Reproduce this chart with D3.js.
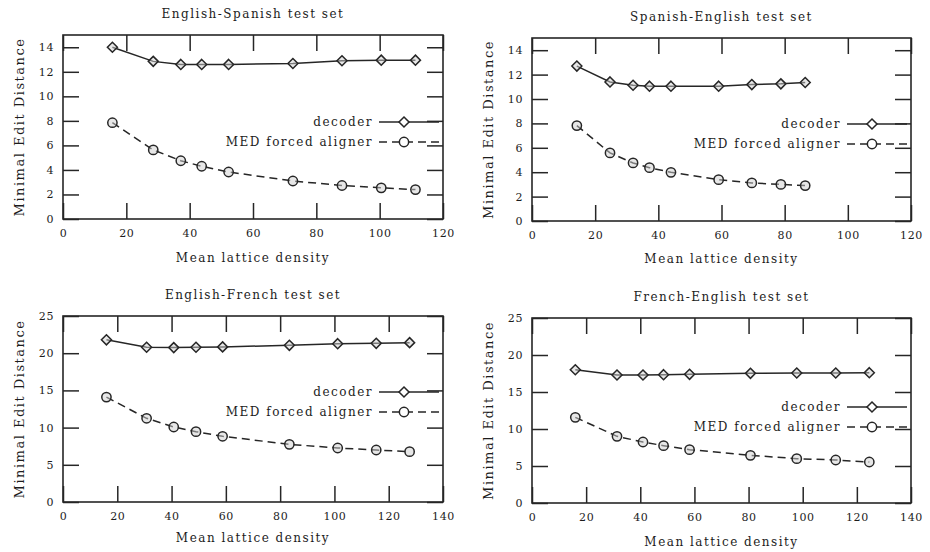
<!DOCTYPE html>
<html>
<head>
<meta charset="utf-8">
<script src="https://cdn.jsdelivr.net/npm/d3@7"></script>
<style>
  body { margin: 0; background: #fff; }
  text { font-family: "DejaVu Serif", "Liberation Serif", serif; fill: #1c1c1c; letter-spacing: 1.5px; }
</style>
</head>
<body>
<div id="chart"></div>
<script>
// data
const titles = ["English-Spanish test set", "Spanish-English test set", "English-French test set", "French-English test set"];
const seriesNames = ["decoder", "MED forced aligner"];

const enEsDensity = [15.6, 28.5, 37.2, 43.8, 52.3, 72.6, 88.1, 100.5, 111.3];
const enEsDecoder = [14.0, 12.85, 12.6, 12.6, 12.6, 12.68, 12.9, 12.95, 12.95];
const enEsAligner = [7.85, 5.63, 4.75, 4.3, 3.83, 3.1, 2.73, 2.54, 2.4];

const esEnDensity = [14.2, 24.7, 32.0, 37.2, 44.0, 59.1, 69.6, 78.8, 86.5];
const esEnDecoder = [12.7, 11.4, 11.13, 11.05, 11.05, 11.05, 11.18, 11.24, 11.35];
const esEnAligner = [7.82, 5.58, 4.76, 4.37, 3.99, 3.39, 3.12, 3.0, 2.9];

const enFrDensity = [16.0, 30.8, 40.8, 49.0, 58.8, 83.4, 101.2, 115.4, 127.7];
const enFrDecoder = [21.8, 20.8, 20.75, 20.8, 20.85, 21.06, 21.28, 21.33, 21.42];
const enFrAligner = [14.1, 11.25, 10.08, 9.45, 8.83, 7.75, 7.26, 6.99, 6.77];

const frEnDensity = [16.0, 31.4, 41.0, 48.6, 58.2, 80.7, 97.8, 112.2, 124.6];
const frEnDecoder = [18.0, 17.3, 17.3, 17.34, 17.39, 17.52, 17.57, 17.57, 17.61];
const frEnAligner = [11.58, 9.01, 8.24, 7.75, 7.21, 6.44, 5.99, 5.81, 5.54];

const xTicks120 = [0, 20, 40, 60, 80, 100, 120];
const xTicks140 = [0, 20, 40, 60, 80, 100, 120, 140];
const yTicks14 = [0, 2, 4, 6, 8, 10, 12, 14];
const yTicks25 = [0, 5, 10, 15, 20, 25];

const panelData = [
  { title: titles[0], x: enEsDensity, dec: enEsDecoder, med: enEsAligner, xMax: 120, yMax: 15, xTicks: xTicks120, yTicks: yTicks14 },
  { title: titles[1], x: esEnDensity, dec: esEnDecoder, med: esEnAligner, xMax: 120, yMax: 15, xTicks: xTicks120, yTicks: yTicks14 },
  { title: titles[2], x: enFrDensity, dec: enFrDecoder, med: enFrAligner, xMax: 140, yMax: 25, xTicks: xTicks140, yTicks: yTicks25 },
  { title: titles[3], x: frEnDensity, dec: frEnDecoder, med: frEnAligner, xMax: 140, yMax: 25, xTicks: xTicks140, yTicks: yTicks25 }
];

// layout of each panel in page pixels
const layout = [
  { left: 63, top: 35, right: 443, bottom: 219, xLab: 43, legY: 87 },
  { left: 532, top: 38, right: 911, bottom: 221, xLab: 42, legY: 86 },
  { left: 63, top: 316, right: 443, bottom: 502, xLab: 40, legY: 76 },
  { left: 532, top: 318, right: 911, bottom: 503, xLab: 43, legY: 89 }
];

const W = 930, H = 552;
const ink = "#262626";
const tickLen = 16;

const svg = d3.select("#chart").append("svg")
  .attr("width", W)
  .attr("height", H)
  .attr("viewBox", [0, 0, W, H]);

const diamond = d3.symbol().type(d3.symbolDiamond2).size(64);
const circle = d3.symbol().type(d3.symbolCircle).size(68);

function drawPanel(p, lay) {
  let g = svg.append("g");

  let x = d3.scaleLinear().domain([0, p.xMax]).range([lay.left, lay.right]);
  let y = d3.scaleLinear().domain([0, p.yMax]).range([lay.bottom, lay.top]);

  // ticks on all four sides, pointing inward
  let xAxisB = d3.axisBottom(x).tickValues(p.xTicks).tickSizeInner(-tickLen).tickSizeOuter(0).tickPadding(10);
  let xAxisT = d3.axisTop(x).tickValues(p.xTicks).tickSizeInner(-tickLen).tickSizeOuter(0).tickFormat("");
  let yAxisL = d3.axisLeft(y).tickValues(p.yTicks).tickSizeInner(-tickLen).tickSizeOuter(0).tickPadding(9);
  let yAxisR = d3.axisRight(y).tickValues(p.yTicks).tickSizeInner(-tickLen).tickSizeOuter(0).tickFormat("");

  const style = a => a
    .call(a => a.select(".domain").remove())
    .call(a => a.selectAll(".tick line").attr("stroke", ink).attr("stroke-width", 1.5))
    .call(a => a.selectAll(".tick text").attr("font-size", 11).attr("fill", "#1c1c1c")
      .style("font-family", '"DejaVu Serif", serif').style("letter-spacing", "0.6px"));

  g.append("g").attr("transform", `translate(0,${lay.bottom})`).call(xAxisB).call(style);
  g.append("g").attr("transform", `translate(0,${lay.top})`).call(xAxisT).call(style);
  g.append("g").attr("transform", `translate(${lay.left},0)`).call(yAxisL).call(style);
  g.append("g").attr("transform", `translate(${lay.right},0)`).call(yAxisR).call(style);

  // frame
  g.append("rect")
    .attr("x", lay.left).attr("y", lay.top)
    .attr("width", lay.right - lay.left).attr("height", lay.bottom - lay.top)
    .attr("fill", "none").attr("stroke", ink).attr("stroke-width", 1.6);

  let cx = (lay.left + lay.right) / 2;
  let cy = (lay.top + lay.bottom) / 2;

  g.append("text")
    .attr("x", cx).attr("y", lay.top - 17)
    .attr("text-anchor", "middle").attr("font-size", 12)
    .text(p.title);

  g.append("text")
    .attr("x", cx).attr("y", lay.bottom + lay.xLab)
    .attr("text-anchor", "middle").attr("font-size", 12)
    .text("Mean lattice density");

  g.append("text")
    .attr("transform", `translate(${lay.left - 44},${cy}) rotate(-90)`)
    .attr("text-anchor", "middle").attr("dy", "0.35em").attr("font-size", 13)
    .text("Minimal Edit Distance");

  let pts = (vals) => vals.map((v, i) => [p.x[i], v]);
  let line = d3.line().x(d => x(d[0])).y(d => y(d[1]));

  // decoder, solid with diamonds
  g.append("path")
    .datum(pts(p.dec))
    .attr("d", line)
    .attr("fill", "none").attr("stroke", ink).attr("stroke-width", 1.5);
  g.append("g").selectAll("path")
    .data(pts(p.dec))
    .join("path")
    .attr("d", diamond)
    .attr("transform", d => `translate(${x(d[0])},${y(d[1])})`)
    .attr("fill", "#d0d0d0").attr("fill-opacity", 0.5).attr("stroke", ink).attr("stroke-width", 1.5);

  // MED forced aligner, dashed with circles
  g.append("path")
    .datum(pts(p.med))
    .attr("d", line)
    .attr("fill", "none").attr("stroke", ink).attr("stroke-width", 1.5)
    .attr("stroke-dasharray", "8,5");
  g.append("g").selectAll("path")
    .data(pts(p.med))
    .join("path")
    .attr("d", circle)
    .attr("transform", d => `translate(${x(d[0])},${y(d[1])})`)
    .attr("fill", "#d0d0d0").attr("fill-opacity", 0.5).attr("stroke", ink).attr("stroke-width", 1.5);

  // legend
  let legRight = lay.right - 70;
  let legend = g.append("g");
  seriesNames.forEach((name, i) => {
    let ly = lay.top + lay.legY + i * 20;
    legend.append("text")
      .attr("x", legRight).attr("y", ly).attr("dy", "0.35em")
      .attr("text-anchor", "end").attr("font-size", 12)
      .text(name);
    legend.append("line")
      .attr("x1", legRight + 6).attr("x2", lay.right - 4)
      .attr("y1", ly).attr("y2", ly)
      .attr("stroke", ink).attr("stroke-width", 1.5)
      .attr("stroke-dasharray", i === 0 ? null : "8,5");
    legend.append("path")
      .attr("d", i === 0 ? diamond : circle)
      .attr("transform", `translate(${legRight + 31},${ly})`)
      .attr("fill", "#fff").attr("stroke", ink).attr("stroke-width", 1.5);
  });
}

panelData.forEach((p, i) => drawPanel(p, layout[i]));
</script>
</body>
</html>
